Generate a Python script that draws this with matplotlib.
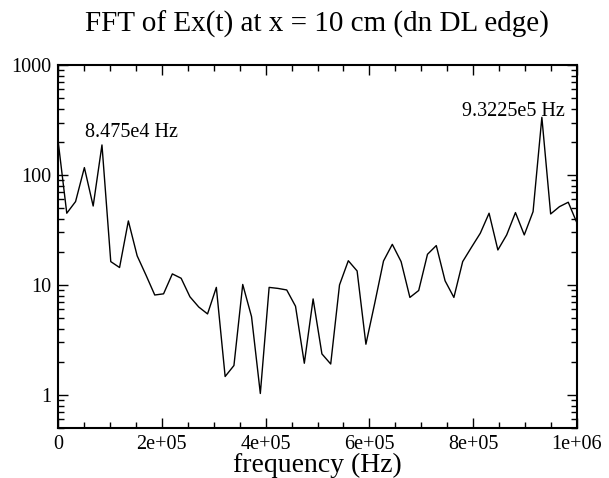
import numpy as np
import matplotlib
matplotlib.use('Agg')
import matplotlib.pyplot as plt
from matplotlib.ticker import FixedLocator, LogLocator, NullFormatter, MultipleLocator

# spectrum sampled every 16950 Hz (peaks at 5 and 55 bins)
df = 16950.0
amplitude = [208, 44.9, 57.3, 116.7, 52.2, 187.5, 16.3, 14.4, 38.2, 18.4,
             12.3, 8.1, 8.3, 12.6, 11.5, 7.8, 6.3, 5.45, 9.5, 1.47,
             1.85, 10.1, 5.15, 1.03, 9.5, 9.3, 9.0, 6.4, 1.94, 7.46,
             2.36, 1.91, 10.0, 16.6, 13.4, 2.89, 6.8, 16.5, 23.4, 16.3,
             7.7, 8.9, 19.0, 22.8, 10.9, 7.7, 16.3, 22.0, 29.5, 44.9,
             20.8, 28.5, 45.5, 28.5, 46.4, 334, 44.2, 51.5, 56.5, 36.4]
freq = np.arange(len(amplitude)) * df

x_ticks = [0, 2e5, 4e5, 6e5, 8e5, 1e6]
x_tick_labels = ['0', '2e+05', '4e+05', '6e+05', '8e+05', '1e+06']
y_ticks = [1, 10, 100, 1000]
y_tick_labels = ['1', '10', '100', '1000']

plt.rcParams['font.family'] = ['Liberation Serif', 'DejaVu Serif']

fig = plt.figure(figsize=(6.09, 4.78), dpi=100)
ax = fig.add_axes([0.0952, 0.1046, 0.8523, 0.7594])

ax.plot(freq, amplitude, color='black', linewidth=1.0)
ax.set_yscale('log')
ax.set_xlim(0, 1e6)
ax.set_ylim(0.5, 1000)

ax.xaxis.set_major_locator(FixedLocator(x_ticks))
ax.set_xticklabels(x_tick_labels)
ax.xaxis.set_minor_locator(MultipleLocator(5e4))
ax.yaxis.set_major_locator(FixedLocator(y_ticks))
ax.set_yticklabels(y_tick_labels)
ax.yaxis.set_minor_locator(LogLocator(base=10, subs=np.arange(2, 10)))
ax.yaxis.set_minor_formatter(NullFormatter())

ax.tick_params(which='both', direction='in', top=True, right=True, labelsize=14.5, width=1.0)
ax.tick_params(which='major', length=7.5, pad=5)
ax.tick_params(which='minor', length=4)
for s in ax.spines.values():
    s.set_linewidth(1.5)

ax.text(5.2e4, 241, '8.475e4 Hz', fontsize=14.5, ha='left', va='center')
ax.text(9.77e5, 374, '9.3225e5 Hz', fontsize=14.5, ha='right', va='center')

ax.set_xlabel('frequency (Hz)', fontsize=20, labelpad=-1)
fig.text(0.521, 0.95, 'FFT of Ex(t) at x = 10 cm (dn DL edge)', fontsize=21,
         ha='center', va='center')

fig.savefig('out.png', dpi=100)
